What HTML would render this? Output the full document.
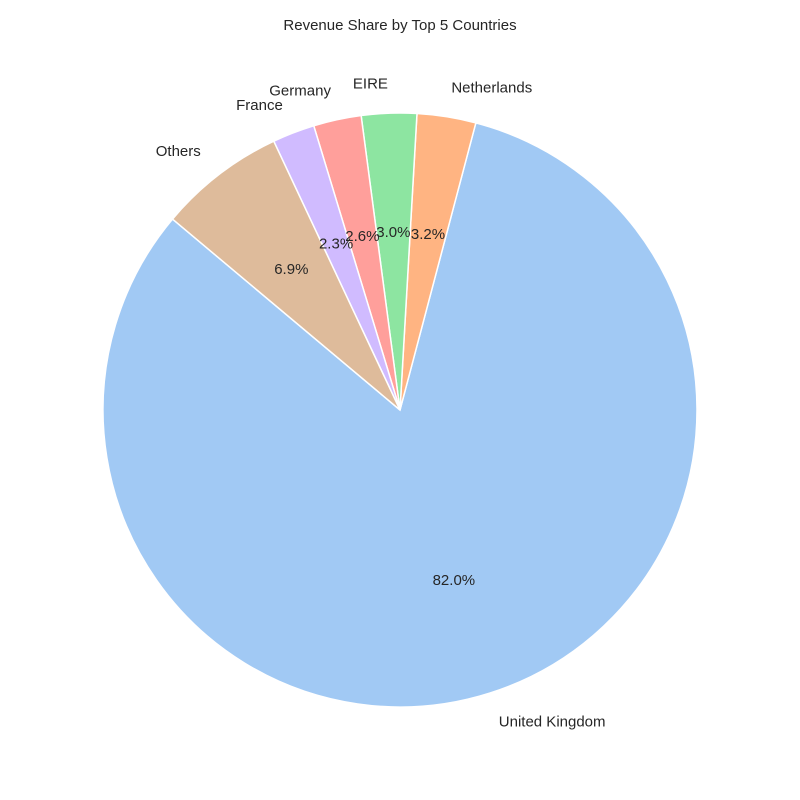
<!DOCTYPE html>
<html><head><meta charset="utf-8"><style>
body{margin:0;background:#fff}
svg{display:block;font-family:"Liberation Sans","DejaVu Sans",sans-serif}
</style></head><body>
<svg id="chart" width="800" height="800">
<text x="400" y="30" text-anchor="middle" font-size="15" fill="#262626">Revenue Share by Top 5 Countries</text>
<g id="slices"></g><g id="labels"></g>
</svg>
<script>
const categories = ["United Kingdom","Netherlands","EIRE","Germany","France","Others"];
const values = [82.0,3.2,3.0,2.6,2.3,6.9];
const colors = ["#a1c9f4","#ffb482","#8de5a1","#ff9f9b","#d0bbff","#debb9b"];
const cx=400, cy=410, R=297, startAngle=140;
const ns="http://www.w3.org/2000/svg";
const total=values.reduce((a,b)=>a+b,0);
const gS=document.getElementById('slices'), gL=document.getElementById('labels');
function pt(deg,r){const a=deg*Math.PI/180;return [cx+r*Math.cos(a), cy-r*Math.sin(a)];}
let ang=startAngle;
values.forEach((v,i)=>{
  const sweep=v/total*360, a0=ang, a1=ang+sweep;
  const p0=pt(a0,R), p1=pt(a1,R);
  const path=document.createElementNS(ns,'path');
  path.setAttribute('d',`M${cx},${cy} L${p0[0]},${p0[1]} A${R},${R} 0 ${sweep>180?1:0} 0 ${p1[0]},${p1[1]} Z`);
  path.setAttribute('fill',colors[i]);path.setAttribute('stroke','#fff');path.setAttribute('stroke-width','1.5');
  
  
  gS.appendChild(path);
  const mid=(a0+a1)/2;
  const lp=pt(mid,R*1.1);
  const t=document.createElementNS(ns,'text');
  t.setAttribute('x',lp[0]);t.setAttribute('y',lp[1]+5);
  t.setAttribute('text-anchor',lp[0]>=cx?'start':'end');
  t.setAttribute('font-size','15');t.setAttribute('fill','#262626');
  t.textContent=categories[i];
  
  
  gL.appendChild(t);
  const pp=pt(mid,R*0.6);
  const q=document.createElementNS(ns,'text');
  q.setAttribute('x',pp[0]);q.setAttribute('y',pp[1]+5);
  q.setAttribute('text-anchor','middle');q.setAttribute('font-size','15');q.setAttribute('fill','#262626');
  q.textContent=v.toFixed(1)+'%';
  
  
  gL.appendChild(q);
  ang=a1;
});
</script>
</body></html>
